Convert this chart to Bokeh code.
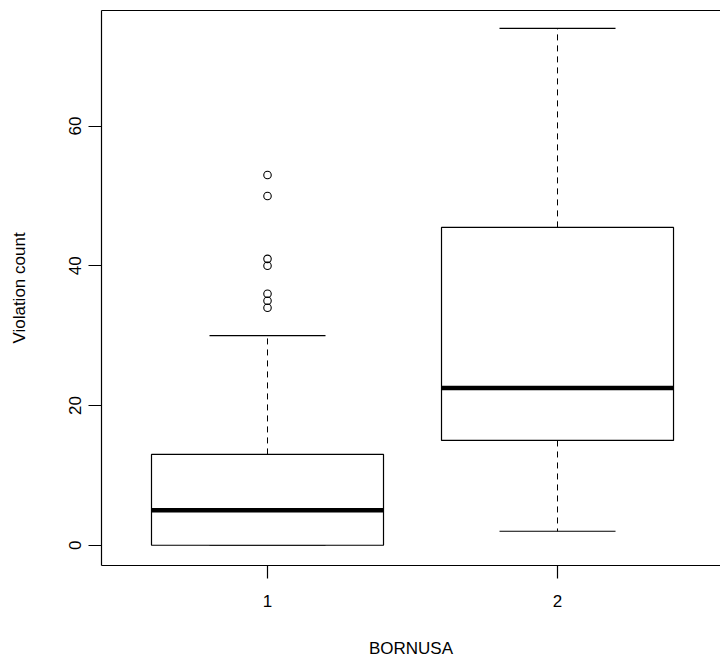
from bokeh.plotting import figure
from bokeh.models import FixedTicker, LinearAxis, Range1d, ColumnDataSource
from bokeh.embed import file_html
from bokeh.resources import INLINE

# ---- data ----
groups = [1, 2]
group_labels = ["1", "2"]
lower_whisker = [0, 2]
q1 = [0, 15]
median = [5, 22.5]
q3 = [13, 45.5]
upper_whisker = [30, 74]
outlier_group = [1, 1, 1, 1, 1, 1, 1]
outlier_values = [34, 35, 36, 40, 41, 50, 53]
y_ticks = [0, 20, 40, 60]

# ---- style ----
BOXWEX = 0.8
FONT = "Liberation Sans"
FS = "17px"

p = figure(width=720, height=662, output_backend="svg", toolbar_location=None,
           x_range=Range1d(0.4276, 2.562), y_range=Range1d(-2.9, 76.55),
           min_border_left=101, min_border_right=0, min_border_top=10,
           min_border_bottom=97)
p.outline_line_color = None
p.grid.visible = False
p.background_fill_color = "white"
p.border_fill_color = "white"

src = ColumnDataSource(dict(
    x=groups,
    left=[g - BOXWEX / 2 for g in groups],
    right=[g + BOXWEX / 2 for g in groups],
    cl=[g - BOXWEX / 4 for g in groups],
    cr=[g + BOXWEX / 4 for g in groups],
    lo=lower_whisker, q1=q1, med=median, q3=q3, hi=upper_whisker,
))

# whiskers (dashed)
p.segment(x0="x", y0="q3", x1="x", y1="hi", source=src, line_color="black",
          line_width=1, line_dash="6 5")
p.segment(x0="x", y0="q1", x1="x", y1="lo", source=src, line_color="black",
          line_width=1, line_dash="6 5")
# caps
p.segment(x0="cl", y0="hi", x1="cr", y1="hi", source=src, line_color="black", line_width=1.2)
p.segment(x0="cl", y0="lo", x1="cr", y1="lo", source=src, line_color="black", line_width=1.2)
# boxes
p.quad(left="left", right="right", bottom="q1", top="q3", source=src,
       fill_color="white", line_color="black", line_width=1.2)
# medians
p.segment(x0="left", y0="med", x1="right", y1="med", source=src,
          line_color="black", line_width=4.5)
# outliers
p.scatter(x=outlier_group, y=outlier_values, marker="circle", size=7.5,
          fill_color=None, line_color="black", line_width=1.1)

# axes
xa = p.xaxis[0]
xa.ticker = FixedTicker(ticks=groups)
xa.major_label_overrides = {g: l for g, l in zip(groups, group_labels)}
xa.axis_label = "BORNUSA"
ya = p.yaxis[0]
ya.ticker = FixedTicker(ticks=y_ticks)
ya.axis_label = "Violation count"
ya.major_label_orientation = "vertical"
for ax in (xa, ya):
    ax.axis_line_color = "black"
    ax.axis_line_width = 1.2
    ax.major_tick_line_color = "black"
    ax.major_tick_line_width = 1.2
    ax.major_tick_out = 13
    ax.major_tick_in = 0
    ax.minor_tick_line_color = None
    ax.major_label_text_font = FONT
    ax.major_label_text_font_size = FS
    ax.major_label_text_color = "black"
    ax.axis_label_text_font = FONT
    ax.axis_label_text_font_size = FS
    ax.axis_label_text_font_style = "normal"
    ax.axis_label_text_color = "black"
xa.major_label_standoff = 16
xa.axis_label_standoff = 29
ya.major_label_standoff = 7
ya.axis_label_standoff = 38

# top border
top = LinearAxis(ticker=FixedTicker(ticks=[]), major_tick_out=0, major_tick_in=0,
                 major_label_standoff=0, major_label_text_font_size="0px",
                 axis_line_color="black", axis_line_width=1.2,
                 minor_tick_line_color=None)
p.add_layout(top, "above")

open("out.html", "w").write(file_html(p, INLINE))
